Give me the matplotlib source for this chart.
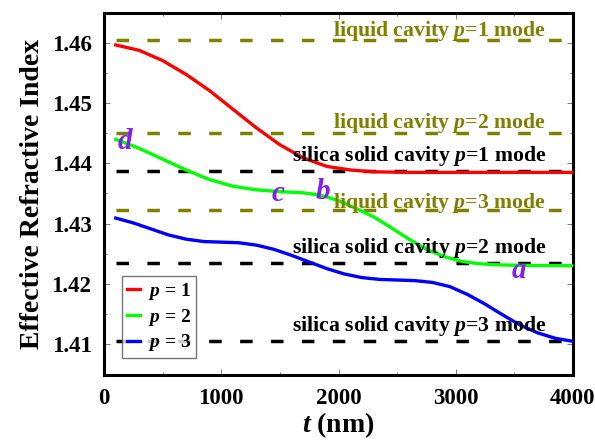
import matplotlib
matplotlib.use("Agg")
import matplotlib.pyplot as plt
from matplotlib.ticker import MultipleLocator

plt.rcParams['font.family'] = ['Liberation Serif', 'DejaVu Serif']
plt.rcParams['font.weight'] = 'bold'
plt.rcParams['mathtext.fontset'] = 'custom'
plt.rcParams['mathtext.it'] = 'Liberation Serif:italic:bold'
plt.rcParams['mathtext.rm'] = 'Liberation Serif:bold'

# ---- data ----
t_red = [100, 300, 500, 700, 900, 1100, 1300, 1500, 1700, 1900, 2100, 2300, 2600, 3000, 3500, 4000]
n_red = [1.4597, 1.4588, 1.4571, 1.4548, 1.4521, 1.4490, 1.4459, 1.4431, 1.4409, 1.4395,
         1.4389, 1.4386, 1.4385, 1.4385, 1.4385, 1.4385]

t_green = [100, 300, 500, 700, 900, 1100, 1300, 1500, 1700, 1850, 2000, 2150, 2300, 2450,
           2600, 2750, 2900, 3050, 3200, 3400, 3700, 4000]
n_green = [1.4440, 1.4425, 1.4407, 1.4389, 1.4373, 1.4362, 1.4356, 1.4353, 1.4351, 1.4347,
           1.4338, 1.4325, 1.4311, 1.4293, 1.4274, 1.4257, 1.4245, 1.4237, 1.4233, 1.4231,
           1.4230, 1.4230]

t_blue = [100, 250, 400, 550, 700, 850, 1000, 1150, 1300, 1450, 1600, 1750, 1900, 2050,
          2200, 2350, 2500, 2650, 2800, 2950, 3100, 3250, 3400, 3550, 3700, 3850, 4000]
n_blue = [1.4309, 1.4301, 1.4291, 1.4281, 1.4274, 1.4270, 1.4269, 1.4268, 1.4264, 1.4257,
          1.4247, 1.4236, 1.4225, 1.4216, 1.4210, 1.4207, 1.4206, 1.4205, 1.4202, 1.4195,
          1.4182, 1.4166, 1.4148, 1.4131, 1.4118, 1.4109, 1.4104]

liquid_levels = [1.4605, 1.4450, 1.4323]
silica_levels = [1.4388, 1.4234, 1.4105]
level_t = [100, 4000]

liquid_labels = ['liquid cavity $p$=1 mode', 'liquid cavity $p$=2 mode', 'liquid cavity $p$=3 mode']
liquid_label_y = [1.46116, 1.44583, 1.43254]
silica_labels = ['silica solid cavity $p$=1 mode', 'silica solid cavity $p$=2 mode',
                 'silica solid cavity $p$=3 mode']
silica_label_y = [1.44045, 1.42507, 1.41204]

point_labels = ['d', 'c', 'b', 'a']
point_t = [179, 1483, 1866, 3540]
point_n = [1.4436, 1.4350, 1.4353, 1.4222]

fig = plt.figure(figsize=(5.95, 4.41), dpi=100)
ax = fig.add_axes([104/595, 1 - 375/441, (573-104)/595, (375-12.5)/441])

olive = '#808000'
for y in liquid_levels:
    ax.plot(level_t, [y, y], color=olive, lw=2.5, dashes=(3.6, 5.3), zorder=1)
for y in silica_levels:
    ax.plot(level_t, [y, y], color='black', lw=2.5, dashes=(3.6, 5.3), zorder=1)

ax.plot(t_red, n_red, color='#ff0000', lw=2.4, label='$p$ = 1', zorder=3)
ax.plot(t_green, n_green, color='#00ff00', lw=2.4, label='$p$ = 2', zorder=3)
ax.plot(t_blue, n_blue, color='#0000ff', lw=2.4, label='$p$ = 3', zorder=3)

for s, y in zip(liquid_labels, liquid_label_y):
    ax.text(3770, y, s, color=olive, fontsize=15.7, fontweight='bold', ha='right',
            va='baseline', zorder=4)
for s, y in zip(silica_labels, silica_label_y):
    ax.text(3770, y, s, color='black', fontsize=15.7, fontweight='bold', ha='right',
            va='baseline', zorder=4)

for s, x, y in zip(point_labels, point_t, point_n):
    ax.text(x, y, s, color='#8020f0', fontsize=21, fontweight='bold', style='italic',
            ha='center', va='center', zorder=5)

ax.set_xlim(0, 4000)
ax.set_ylim(1.4048, 1.4651)
ax.xaxis.set_major_locator(MultipleLocator(1000))
ax.xaxis.set_minor_locator(MultipleLocator(500))
ax.yaxis.set_minor_locator(MultipleLocator(0.005))
ax.set_yticks([1.41, 1.42, 1.43, 1.44, 1.45, 1.46])
ax.set_yticklabels(['1.41', '1.42', '1.43', '1.44', '1.45', '1.46'])
ax.tick_params(axis='both', which='both', direction='in', top=True, right=True,
               width=0.6, color='#666666')
ax.tick_params(axis='both', which='major', length=4, labelsize=16.5, pad=9)
ax.tick_params(axis='both', which='minor', length=2)
for lab in ax.get_xticklabels() + ax.get_yticklabels():
    lab.set_fontweight('bold')
for sp in ax.spines.values():
    sp.set_linewidth(2.2)

ax.set_xlabel('$t$ (nm)', fontsize=20, fontweight='bold', labelpad=1)
ax.set_ylabel('Effective Refractive Index', fontsize=20, fontweight='bold', labelpad=5)

leg = ax.legend(loc='lower left', bbox_to_anchor=(0.038, 0.046), fontsize=14, frameon=True,
                fancybox=False, edgecolor='#555555', handlelength=0.7, handletextpad=0.4,
                borderpad=0.25, labelspacing=0.25, borderaxespad=0.0)
leg.get_frame().set_linewidth(1.0)
for txt in leg.get_texts():
    txt.set_fontweight('bold')

fig.savefig('out.png', dpi=100)
